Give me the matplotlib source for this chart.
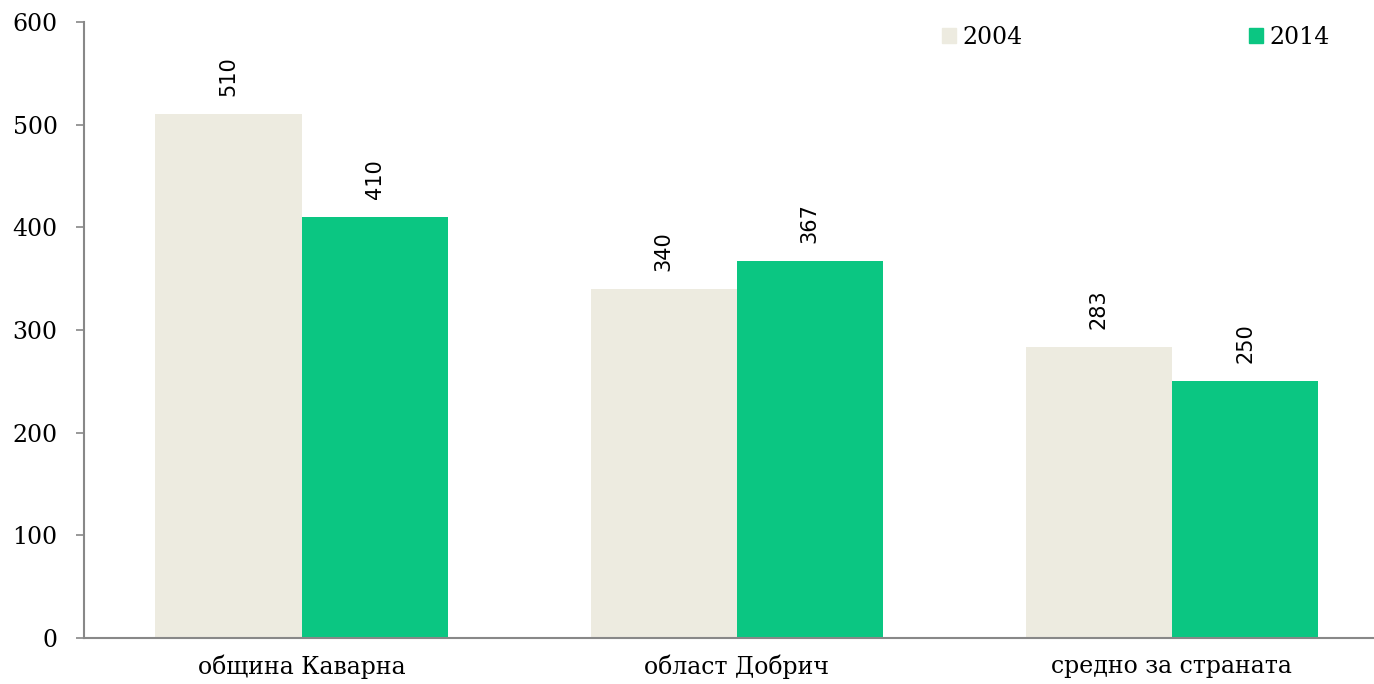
import matplotlib
matplotlib.use("Agg")
import matplotlib.pyplot as plt
import numpy as np
from matplotlib.patches import Patch

categories = ["община Каварна", "област Добрич", "средно за страната"]
series_names = ["2004", "2014"]
values_2004 = [510, 340, 283]
values_2014 = [410, 367, 250]
yticks = [0, 100, 200, 300, 400, 500, 600]

c2004 = "#EDEBE0"
c2014 = "#0BC682"
serif = ["DejaVu Serif"]

W, H = 1374, 684
fig = plt.figure(figsize=(W / 100, H / 100), dpi=100)
left, right = 84.0, 1389.5
bottom, top = 638.0, 22.0
ax = fig.add_axes([left / W, 1 - bottom / H, (right - left) / W, (bottom - top) / H])

x = np.arange(len(categories))
bw = 0.336
b1 = ax.bar(x - bw / 2, values_2004, bw, color=c2004, label=series_names[0])
b2 = ax.bar(x + bw / 2, values_2014, bw, color=c2014, label=series_names[1])

for bars in (b1, b2):
    for r in bars:
        ax.annotate(f"{int(r.get_height())}", (r.get_x() + r.get_width() / 2, r.get_height()),
                    xytext=(0, 13), textcoords="offset points", rotation=90,
                    ha="center", va="bottom", fontsize=15, family="DejaVu Sans", color="black")

ax.set_xlim(-0.5, 2.5)
ax.set_ylim(0, 600)
ax.set_yticks(yticks)
ax.set_yticklabels([str(v) for v in yticks], family=serif, fontsize=17)
ax.set_xticks(x)
ax.set_xticklabels(categories, family=serif, fontsize=17)
ax.tick_params(axis="x", length=0, pad=12)
ax.tick_params(axis="y", length=6, width=1.2, color="#888888", pad=13)
for s in ("top", "right"):
    ax.spines[s].set_visible(False)
for s in ("left", "bottom"):
    ax.spines[s].set_color("#888888")
    ax.spines[s].set_linewidth(1.5)

handles = [Patch(color=c2004), Patch(color=c2014)]
leg = fig.legend(handles, series_names, loc="center left", bbox_to_anchor=(942 / W, 1 - 37 / H),
                 ncol=2, frameon=False, prop={"family": serif, "size": 17},
                 handlelength=0.6, handleheight=0.6, handletextpad=0.25, columnspacing=9.6,
                 borderaxespad=0, borderpad=0)

fig.savefig("out.png", dpi=100)
